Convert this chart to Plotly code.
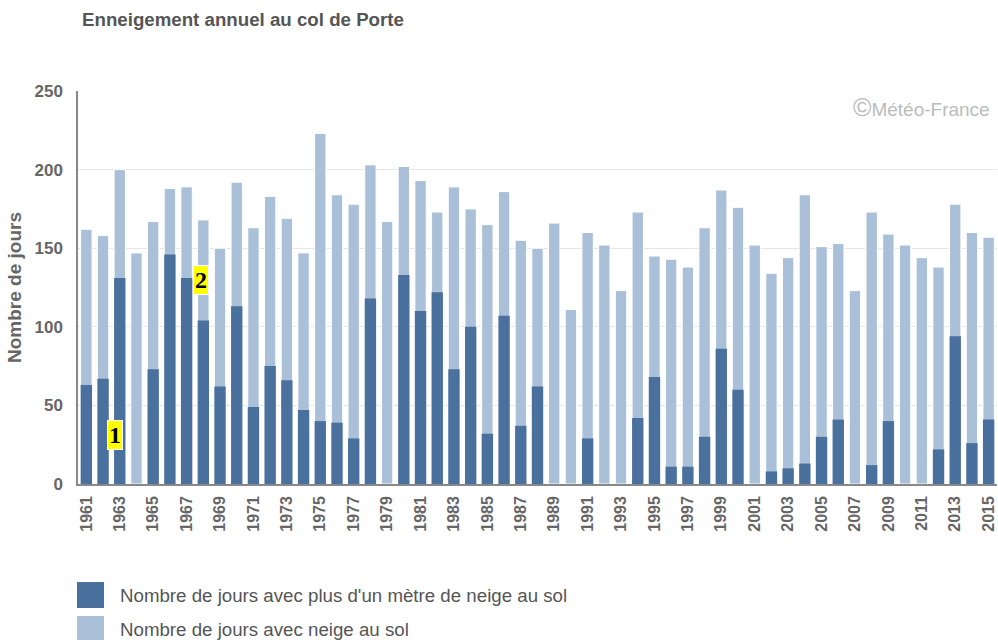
import plotly.graph_objects as go

years = list(range(1961, 2016))
jours_neige = [162, 158, 200, 147, 167, 188, 189, 168, 150, 192,
               163, 183, 169, 147, 223, 184, 178, 203, 167, 202,
               193, 173, 189, 175, 165, 186, 155, 150, 166, 111,
               160, 152, 123, 173, 145, 143, 138, 163, 187, 176,
               152, 134, 144, 184, 151, 153, 123, 173, 159, 152,
               144, 138, 178, 160, 157]
jours_metre = [63, 67, 131, 0, 73, 146, 131, 104, 62, 113,
               49, 75, 66, 47, 40, 39, 29, 118, 0, 133,
               110, 122, 73, 100, 32, 107, 37, 62, 0, 0,
               29, 0, 0, 42, 68, 11, 11, 30, 86, 60,
               0, 8, 10, 13, 30, 41, 0, 12, 40, 0,
               0, 22, 94, 26, 41]
tick_years = list(range(1961, 2016, 2))
tick_labels = [str(y) for y in tick_years]

name_metre = "Nombre de jours avec plus d'un mètre de neige au sol"
name_neige = "Nombre de jours avec neige au sol"
col_dark = "#4a709e"
col_light = "#aabfd8"
font_main = "Liberation Sans, Arial, sans-serif"

fig = go.Figure()
fig.add_trace(go.Bar(x=years, y=jours_neige, name=name_neige, marker_color=col_light,
                     marker_line=dict(color="white", width=1), width=0.68))
fig.add_trace(go.Bar(x=years, y=jours_metre, name=name_metre, marker_color=col_dark,
                     marker_line=dict(color="white", width=0), width=0.68))

fig.update_layout(
    barmode="overlay",
    width=998, height=640,
    margin=dict(l=78, r=1, t=91, b=156),
    paper_bgcolor="white", plot_bgcolor="white",
    showlegend=False,
    font=dict(family=font_main, color="#666"),
    title=dict(text="<b>Enneigement annuel au col de Porte</b>", x=82/998, xanchor="left",
               y=1-19/640, yanchor="middle",
               font=dict(size=18.7, color="#555", family=font_main)),
)
fig.update_xaxes(range=[1960.5, 2015.5], tickmode="array", tickvals=tick_years,
                 ticktext=[f"<b>{t}</b>" for t in tick_labels], tickangle=-90,
                 tickfont=dict(size=16, color="#666"), showgrid=False,
                 showline=True, linecolor="#888", linewidth=1.5, ticks="", ticklabelstandoff=4)
fig.update_yaxes(range=[0, 250], tickvals=[0, 50, 100, 150, 200, 250],
                 ticktext=["<b>0</b>", "<b>50</b>", "<b>100</b>", "<b>150</b>", "<b>200</b>", "<b>250</b>"],
                 tickfont=dict(size=17, color="#666"), showgrid=True, gridcolor="#e6e6e6",
                 gridwidth=1, zeroline=False, showline=True, linecolor="#888", linewidth=1.5,
                 ticks="", ticklabelstandoff=10,
                 title=dict(text="<b>Nombre de jours</b>", font=dict(size=19, color="#666"), standoff=8))

# Watermark
fig.add_annotation(xref="paper", yref="paper", x=1-5/919, y=(484-107)/393, xanchor="right", yanchor="middle",
                   text="<span style='font-size:25px'>©</span>Météo-France", showarrow=False,
                   font=dict(size=19, color="#bbbbbb", family=font_main))

# Numbered marks
for txt, xv, yv in [("1", 1962.71, 31), ("2", 1967.88, 130)]:
    fig.add_annotation(x=xv, y=yv, text=f"<b>{txt}</b>", showarrow=False,
                       font=dict(size=24, color="black", family="Liberation Serif, Times New Roman, serif"),
                       bgcolor="#ffff00", bordercolor="white", borderwidth=1, borderpad=1)

# Legend drawn below the plot
def py(p):
    return (484 - p) / 393

legend_items = [(name_metre, col_dark, 582, 608), (name_neige, col_light, 616, 642)]
for name, col, top, bot in legend_items:
    fig.add_shape(type="rect", xref="paper", yref="paper", x0=-1/919, x1=26/919,
                  y0=py(bot), y1=py(top), fillcolor=col, line=dict(width=0))
    fig.add_annotation(xref="paper", yref="paper", x=40/919, y=py((top + bot) / 2),
                       xanchor="left", yanchor="middle", text=name, showarrow=False,
                       font=dict(size=18.7, color="#555", family=font_main))

fig.write_html("out.html", config={"displayModeBar": False},
               post_script="document.body.style.margin='0';document.body.style.overflow='hidden';")
